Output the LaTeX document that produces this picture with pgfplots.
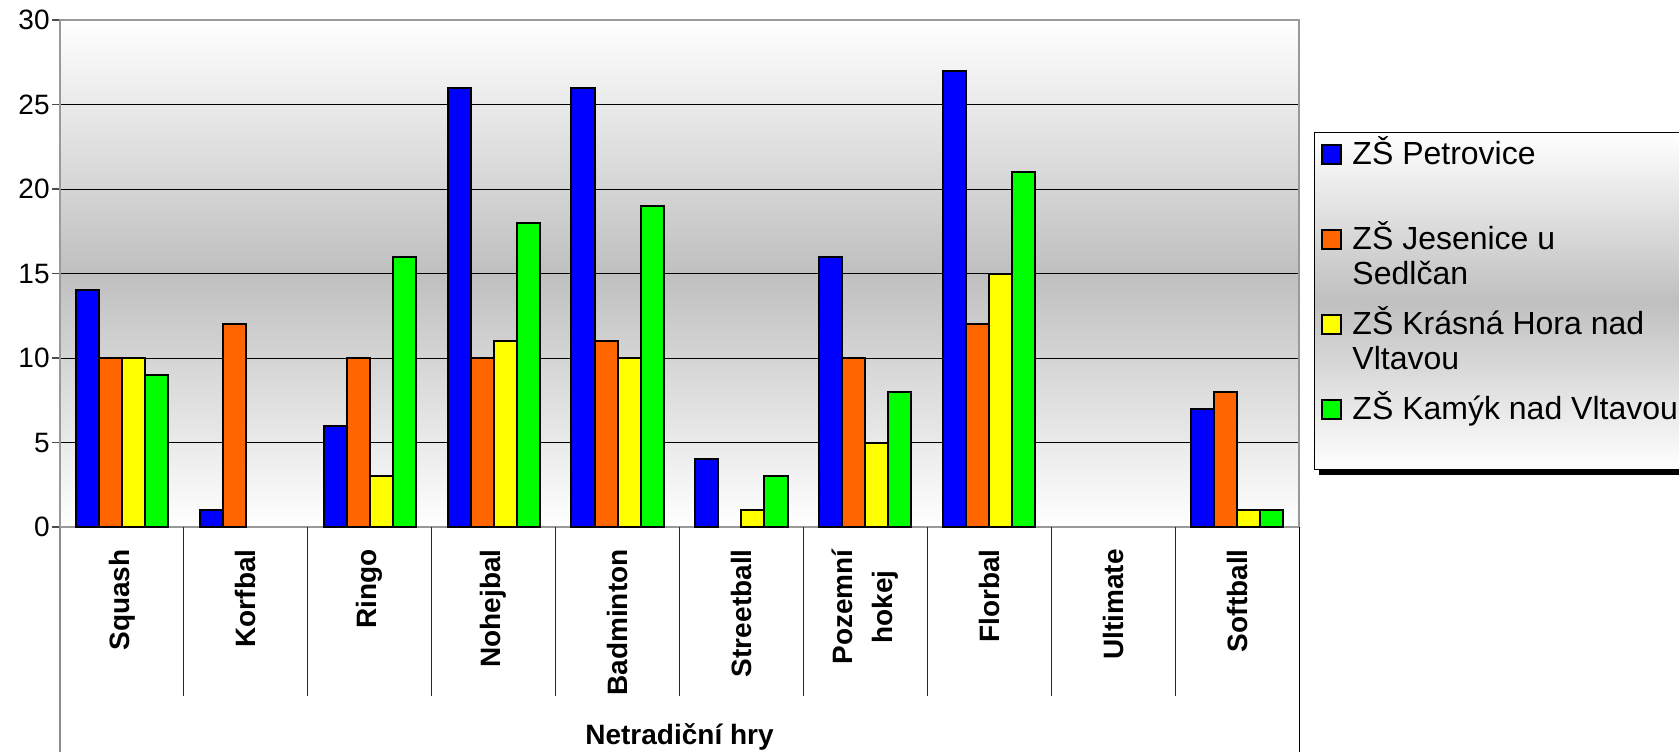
\documentclass[border=0pt]{standalone}
\usepackage{pgfplots}
\pgfplotsset{compat=1.18}
\usepackage{fontspec}
\setmainfont{Liberation Sans}

\definecolor{serA}{HTML}{0000FF}
\definecolor{serB}{HTML}{FF6600}
\definecolor{serC}{HTML}{FFFF00}
\definecolor{serD}{HTML}{00FF00}

% two-line legend text, first line on the baseline
\newcommand{\legtext}[2]{\begin{tabular}[t]{@{}l@{}}#1\\#2\end{tabular}}

\pgfplotsset{
  sq/.style={fill=#1, draw=black, line width=1pt,
    legend image code/.code={\draw[fill=#1, draw=black, line width=1pt] (0pt,0.3pt) rectangle (9.5pt,9.8pt);}},
}

\begin{document}
\begin{tikzpicture}
\path[use as bounding box] (0,0) rectangle (839.5pt,376pt);
\begin{axis}[
  at={(30pt,112.5pt)}, anchor=south west,
  scale only axis, width=619.5pt, height=253.5pt,
  xmin=-0.5, xmax=9.5, ymin=0, ymax=30,
  ybar=0pt, bar width=0.186,
  xtick={0,...,9},
  xticklabels={Squash, Korfbal, Ringo, Nohejbal, Badminton, Streetball, {Pozemní\\hokej}, Florbal, Ultimate, Softball},
  xtick style={draw=none},
  xtick pos=lower, ytick pos=left,
  xticklabel style={rotate=90, anchor=east, inner sep=0pt, align=center,
    font=\fontsize{14}{20}\selectfont\bfseries},
  xticklabel shift=7pt,
  ytick={0,5,...,30},
  tick align=outside,
  major tick length=4pt,
  ytick style={draw=black!70, line width=0.6pt},
  yticklabel style={font=\fontsize{14}{16}\selectfont, inner sep=1pt},
  /pgf/number format/assume math mode=true,
  ymajorgrids, major grid style={black, line width=0.5pt},
  axis line style={draw=black!40, line width=1pt},
  axis background/.style={top color=white, bottom color=white, middle color=black!25},
  xlabel={Netradiční hry},
  xlabel style={at={(axis description cs:0.5,-0.4142)}, anchor=center,
    font=\fontsize{14}{16}\selectfont\bfseries},
  clip=false,
  legend style={
    name=leg,
    at={(axis description cs:1.0121,0.7791)}, anchor=north west,
    draw=black, line width=0.5pt,
    top color=white, bottom color=white, middle color=black!25,
    inner xsep=3.5pt, inner ysep=2pt,
    column sep=5pt, row sep=5.8pt,
    cells={anchor=base west},
    nodes={inner sep=0pt, text depth=, font=\fontsize{16}{17.5}\selectfont},
  },
]
\addplot[sq=serA] coordinates {(0,14) (1,1) (2,6) (3,26) (4,26) (5,4) (6,16) (7,27) (9,7)};
\addplot[sq=serB] coordinates {(0,10) (1,12) (2,10) (3,10) (4,11) (6,10) (7,12) (9,8)};
\addplot[sq=serC] coordinates {(0,10) (2,3) (3,11) (4,10) (5,1) (6,5) (7,15) (9,1)};
\addplot[sq=serD] coordinates {(0,9) (2,16) (3,18) (4,19) (5,3) (6,8) (7,21) (9,1)};
\addlegendentry{\legtext{ZŠ Petrovice}{\mbox{}}}
\addlegendentry{\legtext{ZŠ Jesenice u}{Sedlčan}}
\addlegendentry{\legtext{ZŠ Krásná Hora nad}{Vltavou}}
\addlegendentry{\legtext{ZŠ Kamýk nad Vltavou}{\mbox{}}}

% category dividers below the axis
\pgfplotsinvokeforeach{0.5,1.5,2.5,3.5,4.5,5.5,6.5,7.5,8.5}{
  \draw[black!85, line width=0.5pt] (axis cs:#1,0) -- ++(0pt,-84.5pt);
}
\draw[black!45, line width=1pt] (axis cs:-0.5,0) -- ++(0pt,-112.5pt);
\draw[black, line width=0.5pt] (axis cs:9.5,0) -- ++(0pt,-112.5pt);
\end{axis}
% shadow strip under the legend box
\fill[black] ([xshift=2.5pt]leg.south west) rectangle ([xshift=2.5pt,yshift=-2.5pt]leg.south east);
\end{tikzpicture}
\end{document}
